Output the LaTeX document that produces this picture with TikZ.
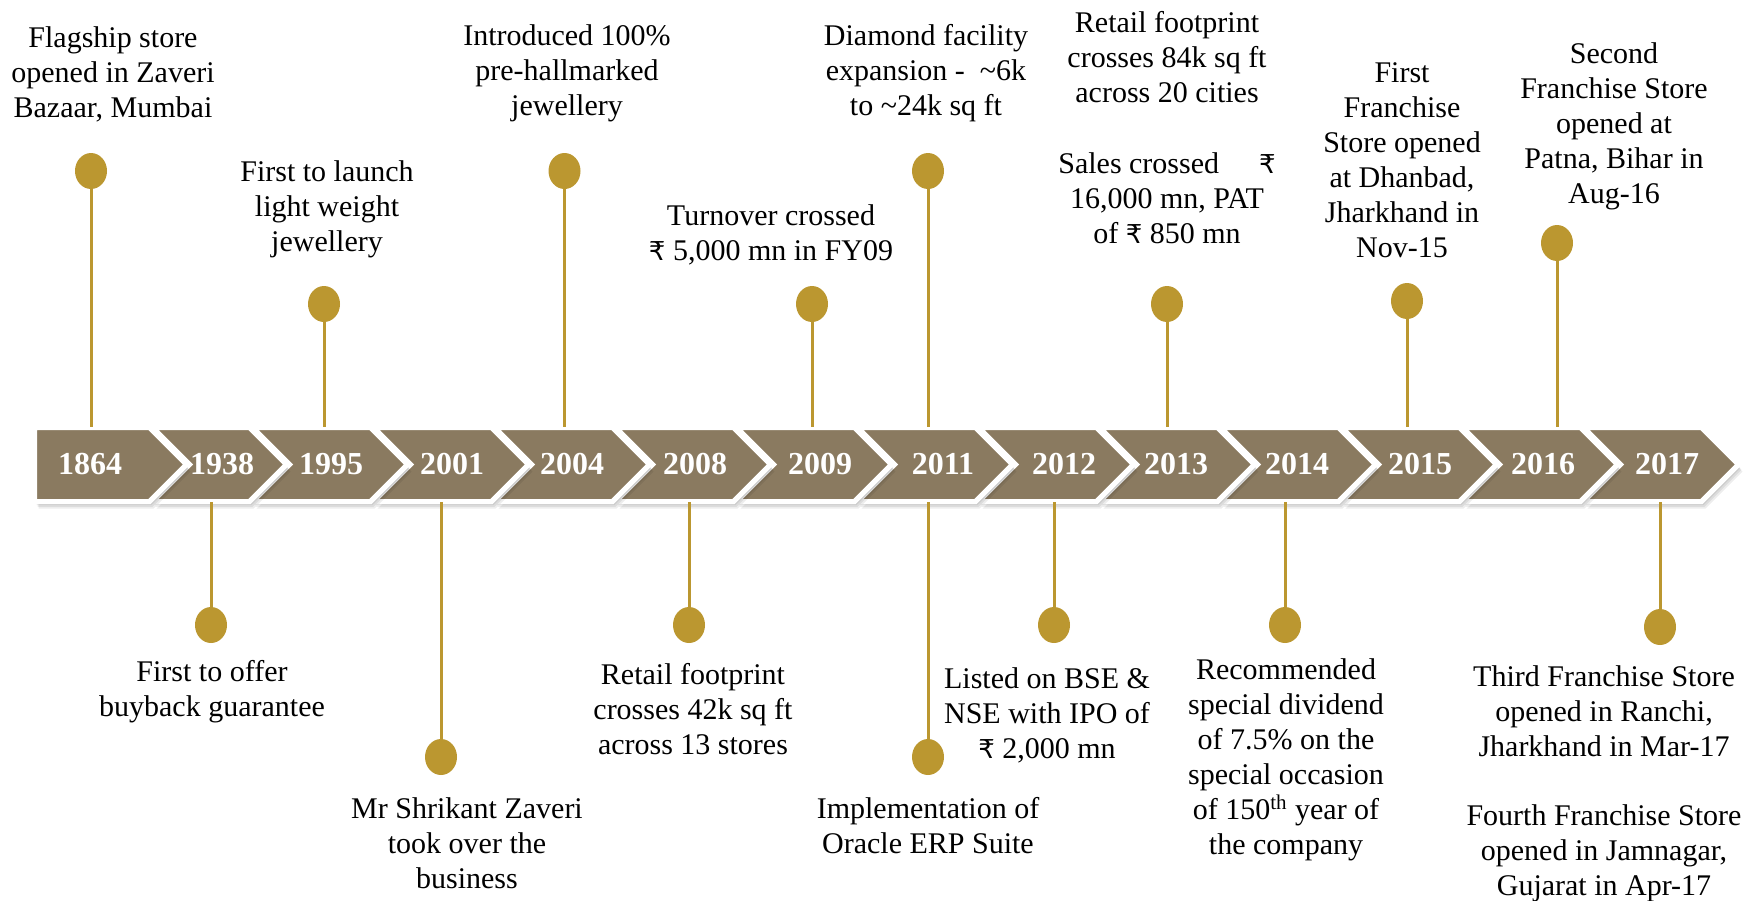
\documentclass[tikz,border=0pt]{standalone}
\usepackage{fontspec}
\setmainfont{Liberation Serif}
\newfontfamily\rupeefont{DejaVu Sans}
\usepackage{tikz}
\usetikzlibrary{
  shapes.geometric,
  positioning
}
\definecolor{bronze}{RGB}{138,122,96}
\definecolor{gold}{RGB}{187,151,48}

\newcommand{\rupee}{{\rupeefont\fontsize{13}{17.5}\selectfont ₹}}
% one arrow of the band: left edge, tip
\newcommand{\chevron}[2]{(#1,427.5) -- ({#2-37},427.5) -- (#2,464.5) -- ({#2-37},501.5) -- (#1,501.5) -- ({#1+37},464.5) -- cycle}

\begin{document}
\begin{tikzpicture}[
    x=0.5pt, y=-0.5pt,
    chev/.style={fill=bronze, draw=white, line width=2.5pt},
    shade/.style={fill=black, opacity=0.07},
    yrtext/.style={text=white, inner sep=0pt, minimum height=37pt, font=\bfseries\fontsize{16}{18}\selectfont},
    dot/.style={ellipse, fill=gold, minimum width=16pt, minimum height=18pt, inner sep=0pt},
    stem/.style={draw=gold, line width=1.5pt},
    note/.style={align=center, inner sep=0pt, font=\fontsize{15}{17.5}\selectfont}
  ]
  \useasboundingbox (0,0) rectangle (1756,900);

  % year band, drawn from right to left
  \foreach \xl/\xt in {1583.5/1738.5, 1462.5/1617.5, 1341.5/1496.5, 1220.5/1375.5,
      1099.5/1254.5, 978.5/1133.5, 857.5/1012.5, 736.5/891.5, 615.5/770.5,
      494.5/649.5, 373.5/528.5, 252.5/407.5, 152.5/286.5} {
    \foreach \s in {1,...,4}
      \fill[shade, shift={({\s},{1.8*\s})}] \chevron{\xl}{\xt};
    \filldraw[chev] \chevron{\xl}{\xt};
  }
  \foreach \s in {1,...,4}
    \fill[shade, shift={({\s},{1.8*\s})}] (34.5,427.5) -- (149.5,427.5) -- (186.5,464.5) -- (149.5,501.5) -- (34.5,501.5) -- cycle;
  \filldraw[chev] (34.5,427.5) -- (149.5,427.5) -- (186.5,464.5) -- (149.5,501.5) -- (34.5,501.5) -- cycle;

  \node[yrtext] (y1864) at (90,464.5) {1864};
  \node[yrtext] (y1938) at (222,464.5) {1938};
  \node[yrtext] (y1995) at (331,464.5) {1995};
  \node[yrtext] (y2001) at (452,464.5) {2001};
  \node[yrtext] (y2004) at (572,464.5) {2004};
  \node[yrtext] (y2008) at (695,464.5) {2008};
  \node[yrtext] (y2009) at (820,464.5) {2009};
  \node[yrtext] (y2011) at (943,464.5) {2011};
  \node[yrtext] (y2012) at (1064,464.5) {2012};
  \node[yrtext] (y2013) at (1176,464.5) {2013};
  \node[yrtext] (y2014) at (1297,464.5) {2014};
  \node[yrtext] (y2015) at (1420,464.5) {2015};
  \node[yrtext] (y2016) at (1543,464.5) {2016};
  \node[yrtext] (y2017) at (1667,464.5) {2017};

  % pins above the band
  \node[dot] (d1864) at (91,171) {};
  \node[dot] (d1995) at (324,304) {};
  \node[dot] (d2004) at (564.5,171) {};
  \node[dot] (d2009) at (812,304) {};
  \node[dot] (d2011a) at (928,171) {};
  \node[dot] (d2013) at (1167,304) {};
  \node[dot] (d2015) at (1407,301) {};
  \node[dot] (d2016) at (1557,243) {};
  \draw[stem] (d1864) -- (d1864 |- y1864.north);
  \draw[stem] (d1995) -- (d1995 |- y1995.north);
  \draw[stem] (d2004) -- (d2004 |- y2004.north);
  \draw[stem] (d2009) -- (d2009 |- y2009.north);
  \draw[stem] (d2011a) -- (d2011a |- y2011.north);
  \draw[stem] (d2013) -- (d2013 |- y2013.north);
  \draw[stem] (d2015) -- (d2015 |- y2015.north);
  \draw[stem] (d2016) -- (d2016 |- y2016.north);

  % pins below the band
  \node[dot] (d1938) at (211,625) {};
  \node[dot] (d2001) at (441,757) {};
  \node[dot] (d2008) at (689,625) {};
  \node[dot] (d2011b) at (928,757) {};
  \node[dot] (d2012) at (1054,625) {};
  \node[dot] (d2014) at (1285,625) {};
  \node[dot] (d2017) at (1660,627) {};
  \draw[stem] (d1938) -- (d1938 |- y1938.south);
  \draw[stem] (d2001) -- (d2001 |- y2001.south);
  \draw[stem] (d2008) -- (d2008 |- y2008.south);
  \draw[stem] (d2011b) -- (d2011b |- y2011.south);
  \draw[stem] (d2012) -- (d2012 |- y2012.south);
  \draw[stem] (d2014) -- (d2014 |- y2014.south);
  \draw[stem] (d2017) -- (d2017 |- y2017.south);

  % milestone texts, top row
  \node[note] (t1864) at (113,74) {Flagship store\\opened in Zaveri\\Bazaar, Mumbai};
  \node[note] (t1995) at (327,209) {First to launch\\light weight\\jewellery};
  \node[note] (t2004) at (567,73) {Introduced 100\%\\pre-hallmarked\\jewellery};
  \node[note] (t2009) at (771,234.5) {Turnover crossed\\\rupee{} 5,000 mn in FY09};
  \node[note] (t2011a) at (926,73) {Diamond facility\\expansion -\ \ \textasciitilde 6k\\to \textasciitilde 24k sq ft};
  \node[note] (t2013a) at (1167,57) {Retail footprint\\crosses 84k sq ft\\across 20 cities};
  \node[note] (t2013b) at (1167,198) {Sales crossed\hspace{20pt}\rupee\\16,000 mn, PAT\\of \rupee{} 850 mn};
  \node[note] (t2015) at (1402,160) {First\\Franchise\\Store opened\\at Dhanbad,\\Jharkhand in\\Nov-15};
  \node[note] (t2016) at (1614,126.5) {Second\\Franchise Store\\opened at\\Patna, Bihar in\\Aug-16};

  % milestone texts, bottom row
  \node[note] (t1938) at (212,691.5) {First to offer\\buyback guarantee};
  \node[note] (t2001) at (467,843.5) {Mr Shrikant Zaveri\\took over the\\business};
  \node[note] (t2008) at (693,709) {Retail footprint\\crosses 42k sq ft\\across 13 stores};
  \node[note] (t2011b) at (928,826) {Implementation of\\Oracle ERP Suite};
  \node[note] (t2012) at (1047,715) {Listed on BSE \&\\NSE with IPO of\\\rupee{} 2,000 mn};
  \node[note] (t2014) at (1286,760) {Recommended\\special dividend\\of 7.5\% on the\\special occasion\\of 150\textsuperscript{th} year of\\the company};
  \node[note] (t2017a) at (1604,711) {Third Franchise Store\\opened in Ranchi,\\Jharkhand in Mar-17};
  \node[note] (t2017b) at (1604,853) {Fourth Franchise Store\\opened in Jamnagar,\\Gujarat in Apr-17};
\end{tikzpicture}
\end{document}
